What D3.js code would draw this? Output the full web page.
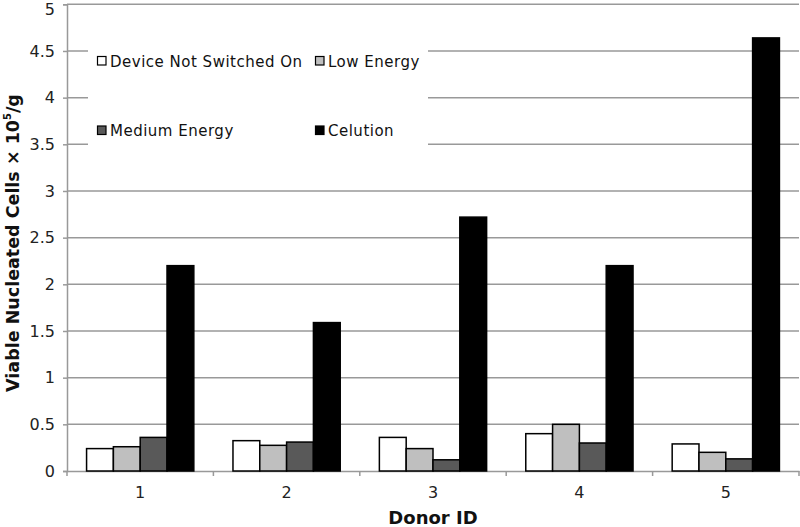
<!DOCTYPE html>
<html><head><meta charset="utf-8">
<script src="https://cdn.jsdelivr.net/npm/d3@7"></script>
<style>body{margin:0;background:#fff}svg{display:block}</style>
</head><body><svg id="c" width="800" height="527"></svg>
<script>
const categories = ["1","2","3","4","5"];
const seriesNames = ["Device Not Switched On","Low Energy","Medium Energy","Celution"];
const deviceNotOn = [0.24,0.325,0.36,0.40,0.29];
const lowEnergy   = [0.26,0.275,0.24,0.50,0.20];
const mediumEnergy= [0.36,0.31,0.12,0.30,0.13];
const celution    = [2.20,1.59,2.72,2.20,4.64];
const yTicks = [0,0.5,1,1.5,2,2.5,3,3.5,4,4.5,5];
const seriesValues = [deviceNotOn,lowEnergy,mediumEnergy,celution];
const colors = ["#ffffff","#bfbfbf","#595959","#000000"];

(function(){
const svg = d3.select("#c");
const font = "DejaVu Sans";
const pLeft = 67, pRight = 799, pTop = 4.3, pBottom = 471;
const y = d3.scaleLinear().domain([0,5]).range([pBottom, pTop]);
const x0 = d3.scaleBand().domain(categories).range([pLeft, pRight]).padding(0);
const x1 = d3.scaleBand().domain(seriesNames).range([0, x0.bandwidth()]).paddingInner(0).paddingOuter(0.73);

// gridlines
svg.append("g").selectAll("line").data(yTicks.filter(d=>d>0)).join("line")
  .attr("x1", pLeft).attr("x2", pRight).attr("y1", d=>y(d)).attr("y2", d=>y(d))
  .attr("stroke", "#999").attr("stroke-width", 1.5);

// y axis
const yAxis = svg.append("g").attr("transform", `translate(${pLeft},0)`)
  .call(d3.axisLeft(y).tickValues(yTicks).tickSize(4).tickPadding(8).tickFormat(d3.format("")));
yAxis.select(".domain").attr("stroke", "#999").attr("stroke-width", 1.5);
yAxis.selectAll(".tick line").attr("stroke", "#999").attr("stroke-width", 1.5);
yAxis.selectAll("text").attr("font-family", font).attr("font-size", 16).attr("fill", "#222");
yAxis.selectAll(".tick").filter(d => d === 5).select("text").attr("y", 5);

// x axis
const xAxis = svg.append("g").attr("transform", `translate(0,${pBottom})`)
  .call(d3.axisBottom(x0).tickSize(0).tickPadding(16));
xAxis.select(".domain").attr("stroke", "#999").attr("stroke-width", 1.5);
xAxis.selectAll("text").attr("font-family", font).attr("font-size", 16).attr("fill", "#222");
const bounds = categories.map(c => x0(c)).concat([x0(categories[categories.length-1]) + x0.bandwidth()]);
svg.append("g").selectAll("line").data(bounds).join("line")
  .attr("x1", d=>d).attr("x2", d=>d).attr("y1", pBottom).attr("y2", pBottom+5)
  .attr("stroke", "#999").attr("stroke-width", 1.5);

// legend (white background)
const lg = svg.append("g");
lg.append("rect").attr("x", 88).attr("y", 28).attr("width", 340).attr("height", 122).attr("fill", "#fff");
const legPos = [[97,66.5],[315,66.5],[97,136],[315,136]];
seriesNames.forEach((s,i) => {
  const [lx, ly] = legPos[i];
  lg.append("rect").attr("x", lx+0.5).attr("y", ly-10).attr("width", 8.5).attr("height", 8.5)
    .attr("fill", colors[i]).attr("stroke", "#000").attr("stroke-width", 1.2);
  lg.append("text").attr("x", lx+13).attr("y", ly).text(s)
    .attr("font-family", font).attr("font-size", 15).attr("letter-spacing", 0.5).attr("fill", "#111");
});

// bars
const groups = svg.append("g").selectAll("g").data(categories).join("g")
  .attr("transform", c => `translate(${x0(c)},0)`);
groups.selectAll("rect").data((c, ci) => seriesNames.map((s, si) => ({s, si, v: seriesValues[si][ci]})))
  .join("rect")
  .attr("x", d => x1(d.s)).attr("width", x1.bandwidth())
  .attr("y", d => y(d.v)).attr("height", d => pBottom - y(d.v))
  .attr("fill", d => colors[d.si]).attr("stroke", "#000").attr("stroke-width", 1.5);

// axis titles
svg.append("text").attr("x", (pLeft+pRight)/2).attr("y", 524).attr("text-anchor", "middle")
  .attr("font-family", font).attr("font-weight", "bold").attr("font-size", 18).attr("fill", "#111")
  .text("Donor ID");
const yt = svg.append("text").attr("transform", `translate(19,243) rotate(-90)`)
  .attr("text-anchor", "middle").attr("font-family", font).attr("font-weight", "bold")
  .attr("font-size", 17.5).attr("fill", "#111");
yt.append("tspan").text("Viable Nucleated Cells × 10");
yt.append("tspan").attr("font-size", 10).attr("dy", -8).text("5");
yt.append("tspan").attr("dy", 8).text("/g");
})();
</script></body></html>
